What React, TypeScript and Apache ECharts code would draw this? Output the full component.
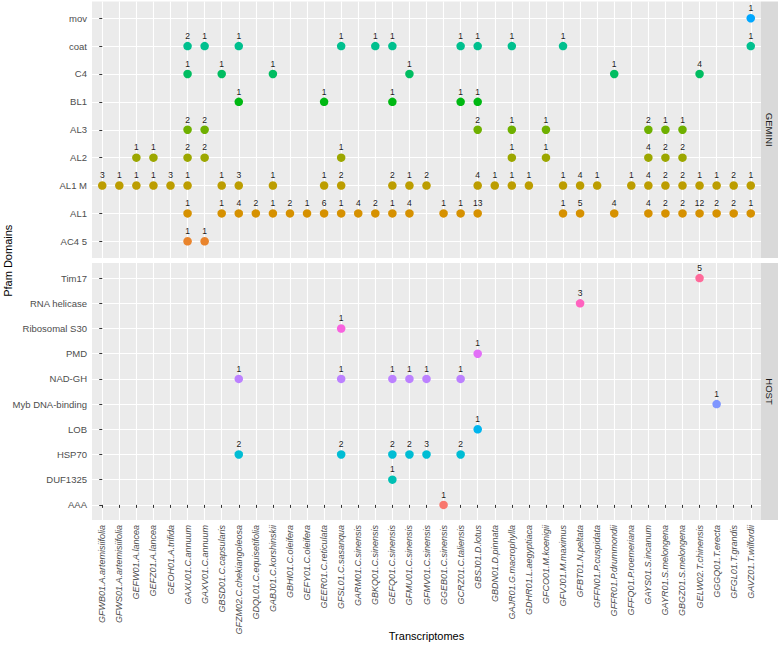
import React, { useEffect, useRef } from "react";
import * as echarts from "echarts";

// ---------- data ----------
const transcriptomes = [
  "GFWB01.A.artemisiifolia", "GFWS01.A.artemisiifolia", "GEFW01.A.lancea", "GEFZ01.A.lancea",
  "GEOH01.A.trifida", "GAXU01.C.annuum", "GAXV01.C.annuum", "GBSD01.C.capsularis",
  "GFZM02.C.chekiangoleosa", "GDQL01.C.equisetifolia", "GABJ01.C.korshinskii", "GBHI01.C.oleifera",
  "GEFY01.C.oleifera", "GEER01.C.reticulata", "GFSL01.C.sasanqua", "GARM01.C.sinensis",
  "GBKQ01.C.sinensis", "GEFQ01.C.sinensis", "GFMU01.C.sinensis", "GFMV01.C.sinensis",
  "GGEB01.C.sinensis", "GCRZ01.C.taliensis", "GBSJ01.D.lotus", "GBDN01.D.pinnata",
  "GAJR01.G.macrophylla", "GDHR01.L.aegyptiaca", "GFCO01.M.koenigii", "GFVJ01.M.maximus",
  "GFBT01.N.peltata", "GFFN01.P.cuspidata", "GFFR01.P.drummondii", "GFFQ01.P.roemeriana",
  "GAYS01.S.incanum", "GAYR01.S.melongena", "GBGZ01.S.melongena", "GELW02.T.chinensis",
  "GGGQ01.T.erecta", "GFGL01.T.grandis", "GAVZ01.T.wilfordii",
];

// bottom-to-top order within each facet
const geminiDomains = ["AC4 5", "AL1", "AL1 M", "AL2", "AL3", "BL1", "C4", "coat", "mov"];
const hostDomains = ["AAA", "DUF1325", "HSP70", "LOB", "Myb DNA-binding", "NAD-GH", "PMD", "Ribosomal S30", "RNA helicase", "Tim17"];

// colour (factor) level order
const colorLevels = [
  "AAA", "AC4 5", "AL1", "AL1 M", "AL2", "AL3", "BL1", "C4", "coat", "DUF1325",
  "HSP70", "LOB", "mov", "Myb DNA-binding", "NAD-GH", "PMD", "Ribosomal S30", "RNA helicase", "Tim17",
];

type Pair = [string, number];

// GEMINI
const movCounts: Pair[] = [["GAVZ01", 1]];
const coatCounts: Pair[] = [["GAXU01", 2], ["GAXV01", 1], ["GFZM02", 1], ["GFSL01", 1], ["GBKQ01", 1], ["GEFQ01", 1], ["GCRZ01", 1], ["GBSJ01", 1], ["GAJR01", 1], ["GFVJ01", 1], ["GAVZ01", 1]];
const c4Counts: Pair[] = [["GAXU01", 1], ["GBSD01", 1], ["GABJ01", 1], ["GFMU01", 1], ["GFFR01", 1], ["GELW02", 4]];
const bl1Counts: Pair[] = [["GFZM02", 1], ["GEER01", 1], ["GEFQ01", 1], ["GCRZ01", 1], ["GBSJ01", 1]];
const al3Counts: Pair[] = [["GAXU01", 2], ["GAXV01", 2], ["GBSJ01", 2], ["GAJR01", 1], ["GFCO01", 1], ["GAYS01", 2], ["GAYR01", 1], ["GBGZ01", 1]];
const al2Counts: Pair[] = [["GEFW01", 1], ["GEFZ01", 1], ["GAXU01", 2], ["GAXV01", 2], ["GFSL01", 1], ["GAJR01", 1], ["GFCO01", 1], ["GAYS01", 4], ["GAYR01", 2], ["GBGZ01", 2]];
const al1mCounts: Pair[] = [
  ["GFWB01", 3], ["GFWS01", 1], ["GEFW01", 1], ["GEFZ01", 1], ["GEOH01", 3], ["GAXU01", 1], ["GBSD01", 1],
  ["GFZM02", 3], ["GABJ01", 1], ["GEER01", 1], ["GFSL01", 2], ["GEFQ01", 2], ["GFMU01", 1], ["GFMV01", 2],
  ["GBSJ01", 4], ["GBDN01", 1], ["GAJR01", 1], ["GDHR01", 1], ["GFVJ01", 1], ["GFBT01", 4], ["GFFN01", 1],
  ["GFFQ01", 1], ["GAYS01", 4], ["GAYR01", 2], ["GBGZ01", 2], ["GELW02", 1], ["GGGQ01", 1], ["GFGL01", 2], ["GAVZ01", 1],
];
const al1Counts: Pair[] = [
  ["GAXU01", 1], ["GBSD01", 1], ["GFZM02", 4], ["GDQL01", 2], ["GABJ01", 1], ["GBHI01", 2], ["GEFY01", 1],
  ["GEER01", 6], ["GFSL01", 1], ["GARM01", 4], ["GBKQ01", 2], ["GEFQ01", 1], ["GFMU01", 4], ["GGEB01", 1],
  ["GCRZ01", 1], ["GBSJ01", 13], ["GFVJ01", 1], ["GFBT01", 5], ["GFFR01", 4], ["GAYS01", 4], ["GAYR01", 2],
  ["GBGZ01", 2], ["GELW02", 12], ["GGGQ01", 2], ["GFGL01", 2], ["GAVZ01", 1],
];
const ac45Counts: Pair[] = [["GAXU01", 1], ["GAXV01", 1]];

// HOST
const tim17Counts: Pair[] = [["GELW02", 5]];
const rnaHelicaseCounts: Pair[] = [["GFBT01", 3]];
const ribosomalS30Counts: Pair[] = [["GFSL01", 1]];
const pmdCounts: Pair[] = [["GBSJ01", 1]];
const nadGhCounts: Pair[] = [["GFZM02", 1], ["GFSL01", 1], ["GEFQ01", 1], ["GFMU01", 1], ["GFMV01", 1], ["GCRZ01", 1]];
const mybCounts: Pair[] = [["GGGQ01", 1]];
const lobCounts: Pair[] = [["GBSJ01", 1]];
const hsp70Counts: Pair[] = [["GFZM02", 2], ["GFSL01", 2], ["GEFQ01", 2], ["GFMU01", 2], ["GFMV01", 3], ["GCRZ01", 2]];
const duf1325Counts: Pair[] = [["GEFQ01", 1]];
const aaaCounts: Pair[] = [["GGEB01", 1]];

const geminiSeries: [string, Pair[]][] = [
  ["mov", movCounts], ["coat", coatCounts], ["C4", c4Counts], ["BL1", bl1Counts], ["AL3", al3Counts],
  ["AL2", al2Counts], ["AL1 M", al1mCounts], ["AL1", al1Counts], ["AC4 5", ac45Counts],
];
const hostSeries: [string, Pair[]][] = [
  ["Tim17", tim17Counts], ["RNA helicase", rnaHelicaseCounts], ["Ribosomal S30", ribosomalS30Counts],
  ["PMD", pmdCounts], ["NAD-GH", nadGhCounts], ["Myb DNA-binding", mybCounts], ["LOB", lobCounts],
  ["HSP70", hsp70Counts], ["DUF1325", duf1325Counts], ["AAA", aaaCounts],
];

// ---------- helpers ----------
function hcl(h: number, c: number, l: number): string {
  const hr = (h * Math.PI) / 180;
  const U = c * Math.cos(hr);
  const V = c * Math.sin(hr);
  const Xn = 95.047, Yn = 100, Zn = 108.883;
  const Y = l > 8 ? Yn * Math.pow((l + 16) / 116, 3) : (Yn * l) / 903.3;
  const t = Xn + 15 * Yn + 3 * Zn;
  const un = (4 * Xn) / t, vn = (9 * Yn) / t;
  const u = U / (13 * l) + un;
  const v = V / (13 * l) + vn;
  const X = (9 * Y * u) / (4 * v);
  const Z = -X / 3 - 5 * Y + (3 * Y) / v;
  const x = X / 100, y = Y / 100, z = Z / 100;
  const lin = [
    3.240479 * x - 1.53715 * y - 0.498535 * z,
    -0.969256 * x + 1.875992 * y + 0.041556 * z,
    0.055648 * x - 0.204043 * y + 1.057311 * z,
  ];
  const hex = lin
    .map((c1) => {
      let g = c1 <= 0.0031308 ? 12.92 * c1 : 1.055 * Math.pow(c1, 1 / 2.4) - 0.055;
      g = Math.max(0, Math.min(1, g));
      return Math.round(g * 255).toString(16).padStart(2, "0");
    })
    .join("");
  return "#" + hex;
}

function huePal(n: number): string[] {
  const out: string[] = [];
  for (let i = 0; i < n; i++) out.push(hcl(15 + (360 / n) * i, 100, 65));
  return out;
}

const idxOf = (code: string) => transcriptomes.findIndex((n) => n.startsWith(code + "."));

const FONT = "'Liberation Sans', Arial, Helvetica, sans-serif";

export default function App() {
  const ref = useRef<HTMLDivElement>(null);

  useEffect(() => {
    if (!ref.current) return;
    const chart = echarts.init(ref.current, undefined, { renderer: "svg" });
    const palette = huePal(colorLevels.length);
    const colorOf = (d: string) => palette[colorLevels.indexOf(d)];

    const xTicks = transcriptomes.map((_, i) => i);
    const gTicks = geminiDomains.map((_, i) => i);
    const hTicks = hostDomains.map((_, i) => i);

    const gridLeft = 92;
    const gridWidth = 669;
    const grids = [
      { left: gridLeft, top: 1.5, width: gridWidth, height: 256.5 },
      { left: gridLeft, top: 263, width: gridWidth, height: 257 },
    ];

    const splitLine = { show: true, lineStyle: { color: "#FFFFFF", width: 1.1 } };
    const tickStyle = { show: true, length: 3, lineStyle: { color: "#333333", width: 1 } };

    const makeSeries = (list: [string, Pair[]][], domains: string[], panel: number) =>
      list.map(([d, pairs]) => ({
        type: "scatter",
        name: d,
        xAxisIndex: panel,
        yAxisIndex: panel,
        symbol: "circle",
        symbolSize: 8.5,
        itemStyle: { color: colorOf(d), opacity: 1 },
        label: {
          show: true,
          position: "top",
          distance: 1.5,
          formatter: (p: any) => String(p.value[2]),
          fontSize: 8.5,
          color: "#1A1A1A",
          fontFamily: FONT,
        },
        emphasis: { disabled: true },
        data: pairs.map(([code, n]) => [idxOf(code), domains.indexOf(d), n]),
      }));

    const yLabel = (names: string[], ticks: number[]) => ({
      customValues: ticks,
      margin: 5,
      fontSize: 9.5,
      color: "#4D4D4D",
      fontFamily: FONT,
      formatter: (v: number) => names[Math.round(v)] ?? "",
    });

    const option: any = {
      animation: false,
      textStyle: { fontFamily: FONT },
      grid: grids.map((g) => ({ ...g, show: true, backgroundColor: "#EBEBEB", borderWidth: 0, containLabel: false })),
      xAxis: [0, 1].map((i) => ({
        type: "value",
        gridIndex: i,
        min: -0.6,
        max: transcriptomes.length - 0.4,
        axisLine: { show: false },
        axisTick: i === 1 ? { ...tickStyle, customValues: xTicks } : { show: false, customValues: xTicks },
        axisLabel:
          i === 1
            ? {
                show: true,
                customValues: xTicks,
                rotate: 90,
                margin: 5,
                fontSize: 9,
                fontStyle: "italic",
                color: "#4D4D4D",
                fontFamily: FONT,
                formatter: (v: number) => transcriptomes[Math.round(v)] ?? "",
              }
            : { show: false, customValues: xTicks },
        splitLine,
      })),
      yAxis: [
        {
          type: "value",
          gridIndex: 0,
          min: -0.6,
          max: geminiDomains.length - 0.4,
          axisLine: { show: false },
          axisTick: { ...tickStyle, customValues: gTicks },
          axisLabel: yLabel(geminiDomains, gTicks),
          splitLine,
        },
        {
          type: "value",
          gridIndex: 1,
          min: -0.6,
          max: hostDomains.length - 0.4,
          axisLine: { show: false },
          axisTick: { ...tickStyle, customValues: hTicks },
          axisLabel: yLabel(hostDomains, hTicks),
          splitLine,
        },
      ],
      series: [...makeSeries(geminiSeries, geminiDomains, 0), ...makeSeries(hostSeries, hostDomains, 1)],
      graphic: [
        ...grids.map((g, i) => ({
          type: "group",
          children: [
            {
              type: "rect",
              shape: { x: g.left + g.width, y: g.top, width: 17, height: g.height },
              style: { fill: "#D9D9D9" },
            },
            {
              type: "text",
              x: g.left + g.width + 8.5,
              y: g.top + g.height / 2,
              rotation: -Math.PI / 2,
              style: {
                text: i === 0 ? "GEMINI" : "HOST",
                fill: "#1A1A1A",
                fontSize: 9.5,
                fontFamily: FONT,
                align: "center",
                verticalAlign: "middle",
              },
            },
          ],
        })),
        {
          type: "text",
          x: 8,
          y: (grids[0].top + grids[1].top + grids[1].height) / 2,
          rotation: Math.PI / 2,
          style: {
            text: "Pfam Domains",
            fill: "#000000",
            fontSize: 11,
            fontFamily: FONT,
            align: "center",
            verticalAlign: "middle",
          },
        },
        {
          type: "text",
          x: gridLeft + gridWidth / 2,
          y: 636,
          style: {
            text: "Transcriptomes",
            fill: "#000000",
            fontSize: 11,
            fontFamily: FONT,
            align: "center",
            verticalAlign: "middle",
          },
        },
      ],
    };

    chart.setOption(option);
    return () => chart.dispose();
  }, []);

  return (
    <div
      ref={ref}
      style={{ position: "absolute", left: 0, top: 0, width: 780, height: 649, background: "#FFFFFF" }}
    />
  );
}
